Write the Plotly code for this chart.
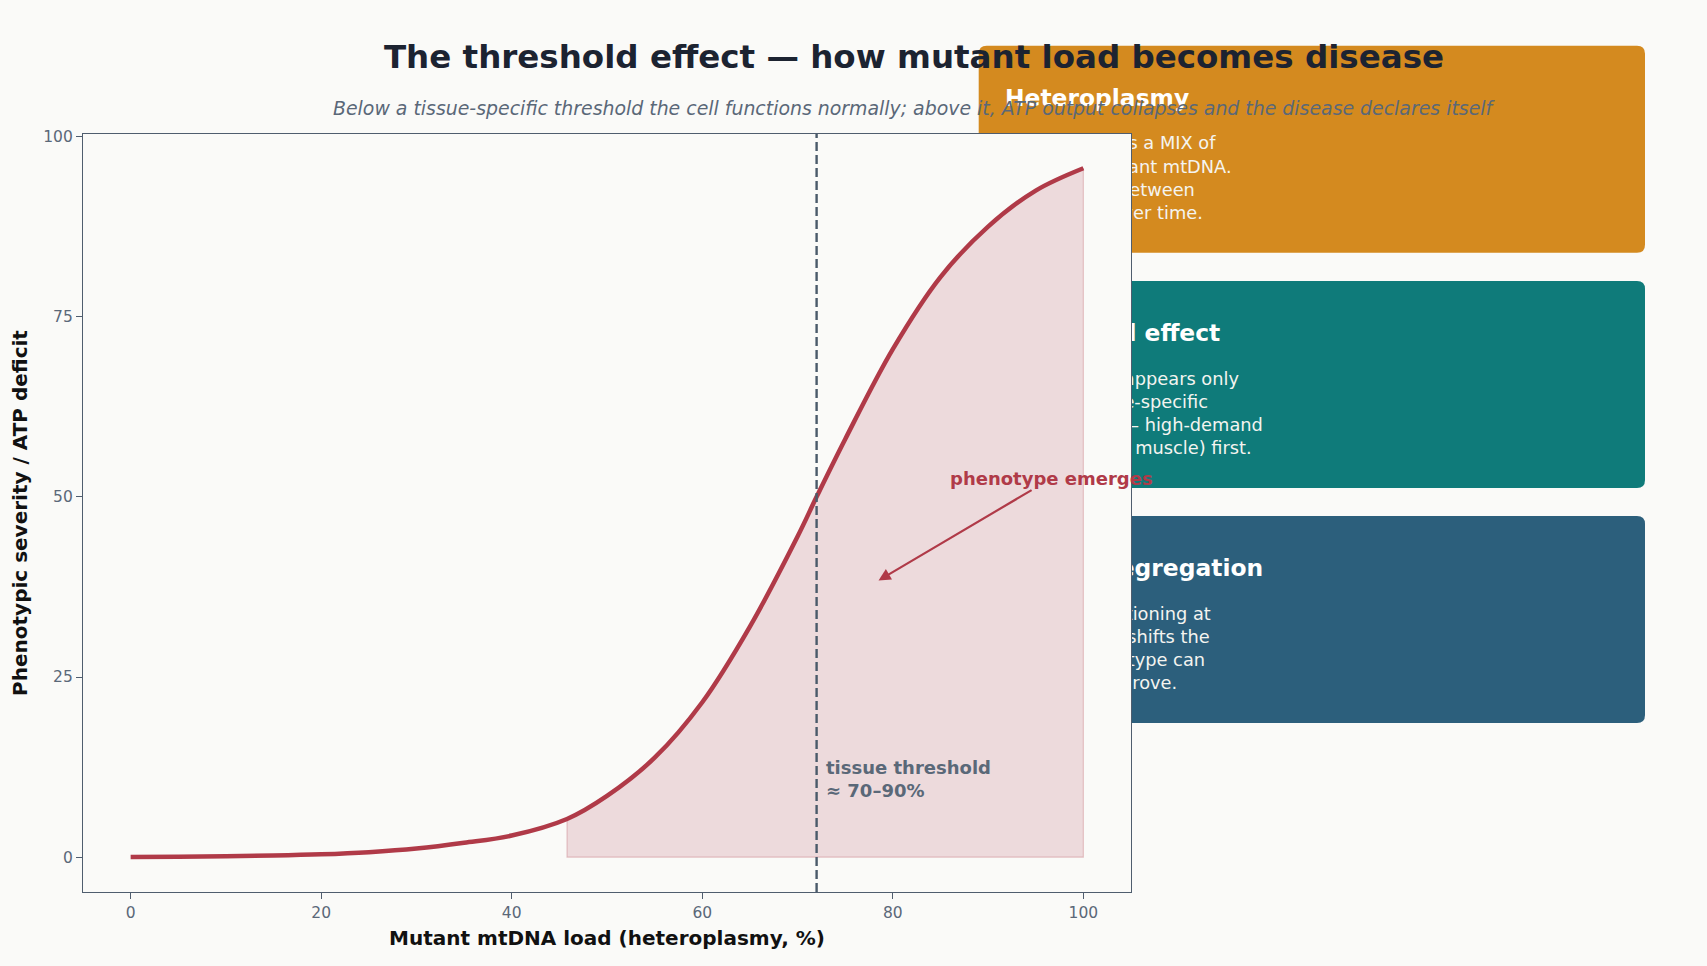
import plotly.graph_objects as go

# ---------------- data ----------------
load_pct = [0, 5, 10, 15, 20, 25, 30, 35, 40, 45.8, 50, 55, 60, 65, 70, 72, 75, 80, 85, 90, 95, 100]
severity = [0.04, 0.07, 0.13, 0.23, 0.4, 0.7, 1.2, 2.0, 3.0, 5.3, 8.5, 13.8, 21.5, 32.0, 44.5, 50.0,
            58.0, 70.5, 80.5, 87.5, 92.5, 95.6]
fill_start = 45.8
threshold_x = 72
x_ticks = [0, 20, 40, 60, 80, 100]
y_ticks = [0, 25, 50, 75, 100]

card_titles = ["Heteroplasmy", "Threshold effect", "Mitotic segregation"]
card_bodies = [
    "Each cell holds a MIX of<br>normal &amp; mutant mtDNA.<br>Ratios differ between<br>tissues and over time.",
    "A phenotype appears only<br>above a tissue-specific<br>its threshold \u2014 high-demand<br>organs (brain, muscle) first.",
    "Random partitioning at<br>each division shifts the<br>load \u2014 phenotype can<br>worsen or improve.",
]
card_colors = ["#d48a1f", "#0f7b7a", "#2c5f7c"]

# ---------------- styling ----------------
W, H = 1707, 966
PL, PR, PT, PB = 83, 1131, 134, 892
BG = "#fafaf8"
CRIMSON = "#b03a48"
SLATE = "#5a6878"
FRAME = "#4f5d6e"
DASH = "#4a5a6a"
FONT = "DejaVu Sans"

def px_x(p):
    return (p - PL) / (PR - PL)

def px_y(p):
    return (PB - p) / (PB - PT)

fill_x = [x for x in load_pct if x >= fill_start]
fill_y = [y for x, y in zip(load_pct, severity) if x >= fill_start]

fig = go.Figure()

# shaded region above the threshold
fig.add_trace(go.Scatter(
    x=fill_x, y=fill_y, mode="lines", line=dict(width=0, shape="spline", color=CRIMSON),
    fill="tozeroy", fillcolor="rgba(176,58,72,0.16)", hoverinfo="skip", showlegend=False))
# outline of the shaded region
fig.add_trace(go.Scatter(
    x=[fill_x[0], fill_x[0], fill_x[-1], fill_x[-1]], y=[fill_y[0], 0, 0, fill_y[-1]],
    mode="lines", line=dict(width=1.2, color="rgba(176,58,72,0.25)"),
    hoverinfo="skip", showlegend=False))
# sigmoid curve
fig.add_trace(go.Scatter(
    x=load_pct, y=severity, mode="lines",
    line=dict(width=4.5, color=CRIMSON, shape="spline"), showlegend=False))

shapes = []
# cards (drawn below the plot area)
card_tops = [45.7, 280.9, 516.0]
card_h = 207
cx0, cx1 = 978.7, 1645.0
text_x = 1002
r = 8
title_offset = 51
body_centers = [176.8, 412.0, 647.0]
rx, ry = r / (PR - PL), r / (PB - PT)
for i, (top, col) in enumerate(zip(card_tops, card_colors)):
    bot = top + card_h
    X0, X1 = px_x(cx0), px_x(cx1)
    Y0, Y1 = px_y(bot), px_y(top)
    path = (f"M {X0+rx},{Y1} L {X1-rx},{Y1} Q {X1},{Y1} {X1},{Y1-ry} "
            f"L {X1},{Y0+ry} Q {X1},{Y0} {X1-rx},{Y0} L {X0+rx},{Y0} Q {X0},{Y0} {X0},{Y0+ry} "
            f"L {X0},{Y1-ry} Q {X0},{Y1} {X0+rx},{Y1} Z")
    shapes.append(dict(type="path", xref="paper", yref="paper", path=path, fillcolor=col,
                       line=dict(width=0), layer="below"))
    tc = top + title_offset
    shapes.append(dict(type="rect", xref="paper", yref="paper", x0=px_x(text_x), x1=px_x(1600),
                       y0=px_y(tc + 1), y1=px_y(tc - 1), fillcolor="rgba(0,0,0,0)", line=dict(width=0),
                       layer="below",
                       label=dict(text="<b>" + card_titles[i] + "</b>", textposition="middle left", padding=0,
                                  font=dict(family=FONT, size=23.4, color="white"))))
    bc = body_centers[i]
    shapes.append(dict(type="rect", xref="paper", yref="paper", x0=px_x(text_x), x1=px_x(1600),
                       y0=px_y(bc + 1), y1=px_y(bc - 1), fillcolor="rgba(0,0,0,0)", line=dict(width=0),
                       layer="below",
                       label=dict(text=card_bodies[i], textposition="middle left", padding=0,
                                  font=dict(family=FONT, size=17.8, color="#f4f4f0"))))
# opaque plot area covering the cards' left parts
shapes.append(dict(type="rect", xref="paper", yref="paper", x0=0, x1=1, y0=0, y1=1,
                   fillcolor=BG, line=dict(width=0), layer="below"))
# threshold line
shapes.append(dict(type="line", xref="x", yref="y domain", x0=threshold_x, x1=threshold_x, y0=0, y1=1,
                   line=dict(color=DASH, width=2.4, dash="9px,4px"), layer="above"))

annotations = [
    dict(x=72.8, y=10.9, xref="x", yref="y", xanchor="left", yanchor="middle", showarrow=False,
         align="left", text="<b>tissue threshold<br>\u2248 70\u201390%</b>",
         font=dict(family=FONT, size=18, color=SLATE)),
    dict(x=78.5, y=38.4, ax=96.7, ay=52.6, xref="x", yref="y", axref="x", ayref="y",
         text="<b>phenotype emerges</b>", showarrow=True, arrowhead=2, arrowsize=1.1, arrowwidth=2.2,
         arrowcolor=CRIMSON, standoff=0, font=dict(family=FONT, size=18, color=CRIMSON)),
    dict(x=px_x(914), y=px_y(107.8), xref="paper", yref="paper", xanchor="center", yanchor="middle",
         showarrow=False, text="<i>Below a tissue-specific threshold the cell functions normally; above it, "
                               "ATP output collapses and the disease declares itself</i>",
         font=dict(family=FONT, size=18.9, color=SLATE)),
]

fig.update_layout(
    width=W, height=H,
    paper_bgcolor=BG, plot_bgcolor=BG,
    margin=dict(l=PL, r=W - PR, t=PT, b=H - PB, autoexpand=False),
    title=dict(text="<b>The threshold effect \u2014 how mutant load becomes disease</b>",
               x=914 / W, xanchor="center", xref="container", y=1 - 56.6 / H, yanchor="middle",
               yref="container", font=dict(family=FONT, size=32.5, color="#1c2331")),
    font=dict(family=FONT, color=SLATE),
    shapes=shapes, annotations=annotations,
    xaxis=dict(range=[-5, 105], tickvals=x_ticks, showgrid=False, zeroline=False,
               showline=True, linecolor=FRAME, linewidth=1.2, mirror=True,
               ticks="outside", ticklen=6, tickcolor=FRAME, tickfont=dict(size=15.5, color=SLATE),
               title=dict(text="<b>Mutant mtDNA load (heteroplasmy, %)</b>", standoff=10,
                          font=dict(size=20, color="#111111"))),
    yaxis=dict(range=[-4.83, 100.35], tickvals=y_ticks, showgrid=False, zeroline=False,
               showline=True, linecolor=FRAME, linewidth=1.2, mirror=True,
               ticks="outside", ticklen=6, tickcolor=FRAME, tickfont=dict(size=15.5, color=SLATE),
               title=dict(text="<b>Phenotypic severity / ATP deficit</b>", standoff=10,
                          font=dict(size=20, color="#111111"))),
)

fig.write_html("out.html")
